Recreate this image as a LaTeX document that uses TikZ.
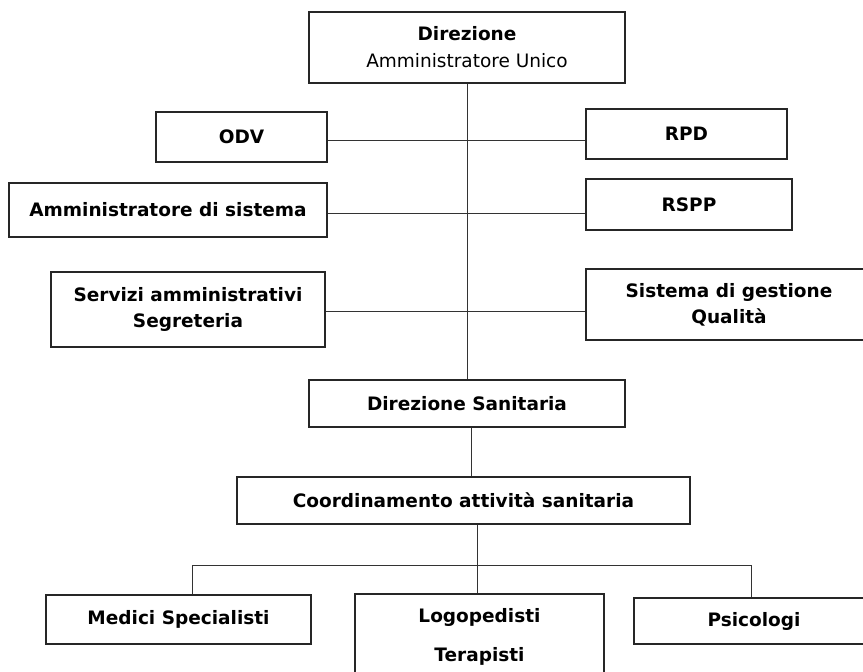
\documentclass[tikz,border=0pt]{standalone}
\usepackage{fontspec}
\setmainfont{DejaVu Sans}
\begin{document}
\begin{tikzpicture}[
	x=1pt, y=-1pt,
	box/.style={
		rectangle,
		draw=black!85, line width=1.3pt,
		inner sep=0pt, align=center,
		font=\fontsize{18.5}{26}\selectfont\bfseries
	},
	link/.style={draw, black!80, line width=0.9pt},
	]
	\useasboundingbox (0,0) rectangle (863,672);

	\node [box, minimum width=316, minimum height=71] (dir) at (467,47.5)
		{Direzione\\[1pt]\mdseries Amministratore Unico};
	\node [box, minimum width=171, minimum height=50] (odv) at (241.5,137) {ODV};
	\node [box, minimum width=201, minimum height=50] (rpd) at (686.5,134) {RPD};
	\node [box, minimum width=318, minimum height=54] (amm) at (168,210) {Amministratore di sistema};
	\node [box, minimum width=206, minimum height=51] (rspp) at (689,204.5) {RSPP};
	\node [box, minimum width=274, minimum height=75] (serv) at (188,309.5) {Servizi amministrativi\\Segreteria};
	\node [box, minimum width=286, minimum height=71] (sgq) at (729,304.5) {Sistema di gestione\\Qualità};
	\node [box, minimum width=316, minimum height=47] (dirsan) at (467,403.5) {Direzione Sanitaria};
	\node [box, minimum width=453, minimum height=47] (coord) at (463.5,500.5) {Coordinamento attività sanitaria};
	\node [box, minimum width=265, minimum height=49] (medici) at (178.5,619.5) {Medici Specialisti};
	\node [box, minimum width=249, minimum height=85] (logo) at (479.5,636.5) {Logopedisti\\[13pt]Terapisti};
	\node [box, minimum width=240, minimum height=46] (psico) at (754,621) {Psicologi};

	\coordinate (busL) at (192,565);
	\coordinate (busR) at (751,565);

	\path [link] (dir.south) -- (dirsan.north);
	\path [link] ([yshift=-3pt]odv.east) -- ([yshift=-3pt]odv.east -| rpd.west);
	\path [link] ([yshift=-3pt]amm.east) -- ([yshift=-3pt]amm.east -| rspp.west);
	\path [link] ([yshift=-1.5pt]serv.east) -- ([yshift=-1.5pt]serv.east -| sgq.west);
	\path [link] ([xshift=4pt]dirsan.south) -- ([xshift=4pt]dirsan.south |- coord.north);
	\path [link] ([xshift=-2.5pt]logo.north |- coord.south) -- ([xshift=-2.5pt]logo.north);
	\path [link] (busL) -- (busR);
	\path [link] (busL) -- (busL |- medici.north);
	\path [link] (busR) -- (busR |- psico.north);
\end{tikzpicture}
\end{document}
